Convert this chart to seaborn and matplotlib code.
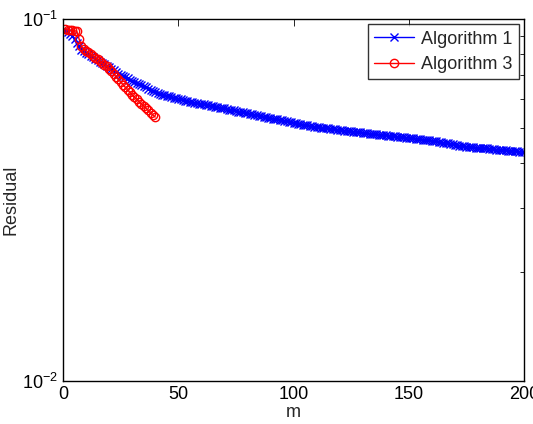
import numpy as np
import matplotlib
matplotlib.use("Agg")
import matplotlib.pyplot as plt
from matplotlib.ticker import NullFormatter
import seaborn as sns

# residuals
res_alg1 = [
    0.0925, 0.0920, 0.0910, 0.0895, 0.0878, 0.0860, 0.0840, 0.0822, 0.0814, 0.0806,
    0.0799, 0.0791, 0.0784, 0.0777, 0.0770, 0.0763, 0.0756, 0.0749, 0.0742, 0.0735,
    0.0728, 0.0721, 0.0714, 0.0707, 0.0700, 0.0695, 0.0690, 0.0685, 0.0680, 0.0675,
    0.0670, 0.0666, 0.0661, 0.0656, 0.0651, 0.0647, 0.0642, 0.0638, 0.0633, 0.0629,
    0.0624, 0.0620, 0.0617, 0.0615, 0.0613, 0.0611, 0.0608, 0.0606, 0.0604, 0.0602,
    0.0600, 0.0597, 0.0595, 0.0593, 0.0591, 0.0589, 0.0587, 0.0585, 0.0584, 0.0582,
    0.0581, 0.0579, 0.0578, 0.0576, 0.0574, 0.0572, 0.0571, 0.0569, 0.0567, 0.0566,
    0.0564, 0.0562, 0.0560, 0.0559, 0.0557, 0.0555, 0.0554, 0.0552, 0.0550, 0.0549,
    0.0547, 0.0545, 0.0544, 0.0542, 0.0540, 0.0539, 0.0537, 0.0536, 0.0534, 0.0533,
    0.0531, 0.0529, 0.0528, 0.0526, 0.0525, 0.0523, 0.0522, 0.0520, 0.0519, 0.0517,
    0.0516, 0.0514, 0.0513, 0.0511, 0.0510, 0.0508, 0.0507, 0.0505, 0.0504, 0.0503,
    0.0502, 0.0501, 0.0500, 0.0499, 0.0499, 0.0498, 0.0497, 0.0496, 0.0495, 0.0494,
    0.0493, 0.0492, 0.0491, 0.0490, 0.0489, 0.0488, 0.0488, 0.0487, 0.0486, 0.0485,
    0.0484, 0.0483, 0.0482, 0.0482, 0.0481, 0.0480, 0.0479, 0.0478, 0.0477, 0.0477,
    0.0476, 0.0475, 0.0475, 0.0474, 0.0473, 0.0472, 0.0472, 0.0471, 0.0470, 0.0470,
    0.0469, 0.0468, 0.0467, 0.0466, 0.0465, 0.0464, 0.0464, 0.0463, 0.0462, 0.0461,
    0.0460, 0.0459, 0.0457, 0.0456, 0.0455, 0.0454, 0.0453, 0.0452, 0.0451, 0.0449,
    0.0448, 0.0447, 0.0446, 0.0445, 0.0444, 0.0443, 0.0442, 0.0442, 0.0441, 0.0441,
    0.0440, 0.0440, 0.0439, 0.0439, 0.0438, 0.0437, 0.0437, 0.0436, 0.0436, 0.0435,
    0.0434, 0.0434, 0.0433, 0.0433, 0.0432, 0.0432, 0.0431, 0.0430, 0.0430, 0.0429,
]
res_alg3 = [
    0.0940, 0.0935, 0.0930, 0.0932, 0.0928, 0.0925, 0.0880, 0.0840, 0.0828, 0.0818,
    0.0809, 0.0800, 0.0791, 0.0782, 0.0773, 0.0764, 0.0756, 0.0748, 0.0741, 0.0729,
    0.0717, 0.0705, 0.0693, 0.0682, 0.0670, 0.0659, 0.0648, 0.0638, 0.0627, 0.0617,
    0.0608, 0.0600, 0.0591, 0.0583, 0.0575, 0.0567, 0.0559, 0.0551, 0.0543, 0.0536,
]
m_alg1 = np.arange(1, len(res_alg1) + 1)
m_alg3 = np.arange(1, len(res_alg3) + 1)

sns.set_theme(style="white")
plt.rcParams['font.family'] = ['Liberation Sans', 'DejaVu Sans']
plt.rcParams['mathtext.fontset'] = 'custom'
plt.rcParams['mathtext.rm'] = 'Liberation Sans'
plt.rcParams['mathtext.it'] = 'Liberation Sans:italic'

fig = plt.figure(figsize=(5.33, 4.24), dpi=100)
ax = fig.add_axes([63 / 533, 1 - 381 / 424, (524 - 63) / 533, (381 - 19) / 424])

sns.lineplot(x=m_alg1, y=res_alg1, ax=ax, color='blue', marker='x', ms=6,
             mec='blue', mew=1.0, lw=1.0, label='Algorithm 1', sort=False, errorbar=None)
sns.lineplot(x=m_alg3, y=res_alg3, ax=ax, color='red', marker='o', ms=6,
             mec='red', mfc='none', mew=1.0, lw=1.0, label='Algorithm 3', sort=False, errorbar=None)

ax.set_yscale('log')
ax.set_xlim(0, 200)
ax.set_ylim(0.01, 0.1)
ax.set_xticks([0, 50, 100, 150, 200])
ax.yaxis.set_minor_formatter(NullFormatter())
ax.set_xlabel('m', fontsize=13, labelpad=1)
ax.set_ylabel('Residual', fontsize=13)
ax.yaxis.set_label_coords(-0.095, 0.5)

for s in ax.spines.values():
    s.set_color('black')
    s.set_linewidth(1.0)
ax.tick_params(which='both', direction='in', top=True, right=True, colors='black',
               labelsize=13, width=0.6)
ax.tick_params(which='major', length=5)
ax.tick_params(which='minor', length=3)

leg = ax.legend(loc='upper right', fontsize=13, frameon=True, fancybox=False,
                borderaxespad=0.3, handlelength=2.2, handletextpad=0.4,
                borderpad=0.35, labelspacing=0.45)
leg.get_frame().set_edgecolor('black')
leg.get_frame().set_linewidth(1.0)

fig.savefig('out.png', dpi=100)
